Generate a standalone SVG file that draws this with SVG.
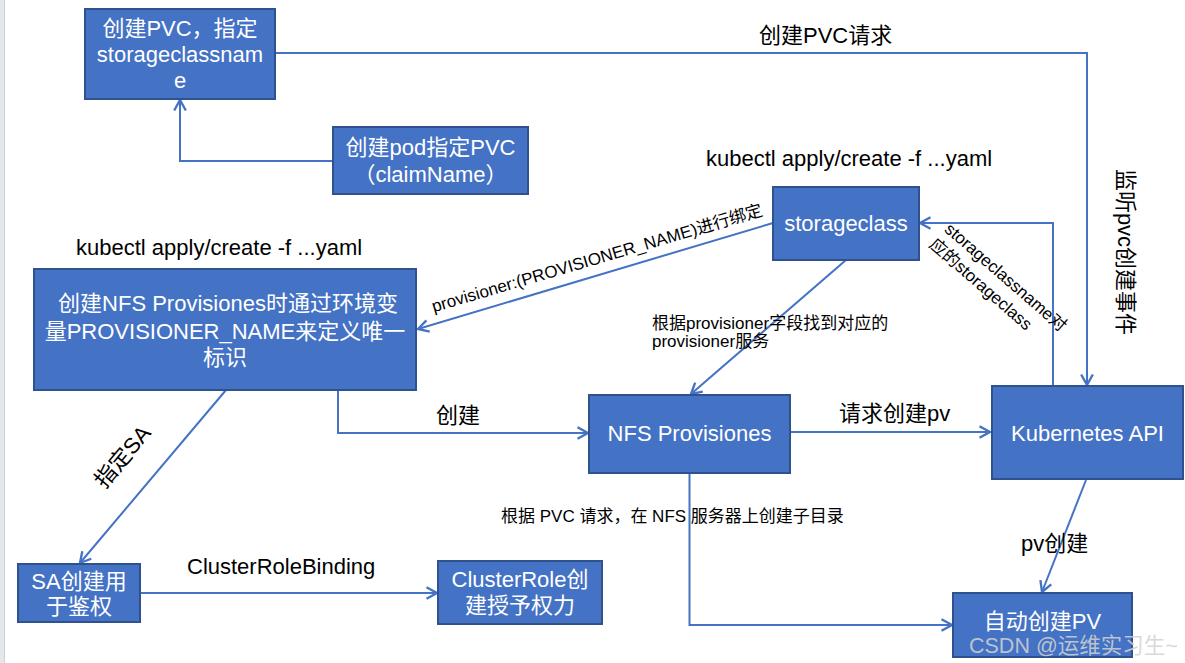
<svg xmlns="http://www.w3.org/2000/svg" width="1185" height="663" viewBox="0 0 1185 663">
<style>
.box{fill:#4472C4;stroke:#2F528F;stroke-width:2}
.bt{fill:#ffffff;font-family:"Liberation Sans","Noto Sans CJK SC",sans-serif;font-size:22px;text-anchor:middle}
.lb{fill:#000000;font-family:"Liberation Sans","Noto Sans CJK SC",sans-serif;font-size:22px}
.sm{fill:#000000;font-family:"Liberation Sans","Noto Sans CJK SC",sans-serif;font-size:17px}
.cn{fill:none;stroke:#4472C4;stroke-width:2;marker-end:url(#ah)}
</style>
<defs>
<marker id="ah" markerUnits="userSpaceOnUse" markerWidth="14" markerHeight="14" viewBox="0 0 12 12" refX="10" refY="6" orient="auto">
<path d="M1,1 L10,6 L1,11" fill="none" stroke="#4472C4" stroke-width="2"/>
</marker>
</defs>
<rect x="0" y="0" width="1185" height="663" fill="#ffffff"/>
<rect x="0" y="0" width="4" height="663" fill="#e3e6ea"/>
<line x1="4.5" y1="0" x2="4.5" y2="663" stroke="#cdd1d6" stroke-width="1"/>

<g id="connectors">
<path class="cn" d="M333,161 H180 V100"/>
<path class="cn" d="M275,53 H1087 V385"/>
<path class="cn" d="M773,223 L418,329"/>
<path class="cn" d="M226,390 L80,563"/>
<path class="cn" d="M338,390 V433 H588"/>
<path class="cn" d="M846,260 L691,394"/>
<path class="cn" d="M790,432 H990"/>
<path class="cn" d="M1053,386 V223 H920"/>
<path class="cn" d="M1086,480 L1042,592"/>
<path class="cn" d="M689.5,473 V625 H952"/>
<path class="cn" d="M140,593 H437"/>
<text class="lb" x="759" y="43">创建PVC请求</text>
<text class="lb" x="706" y="166">kubectl apply/create -f ...yaml</text>
<text class="lb" x="76" y="255">kubectl apply/create -f ...yaml</text>
<text class="sm" transform="translate(597,258) rotate(-16.4)" y="6" text-anchor="middle">provisioner:(PROVISIONER_NAME)进行绑定</text>
<text class="sm" x="652" y="329">根据provisioner字段找到对应的</text>
<text class="sm" x="652" y="347">provisioner服务</text>
<text class="sm" transform="translate(1006,277) rotate(41)" y="6" text-anchor="middle">storageclassname对</text>
<text class="sm" transform="translate(981,284) rotate(41)" y="6" text-anchor="middle">应的storageclass</text>
<text class="lb" transform="translate(1125,252) rotate(90)" y="7" text-anchor="middle">监听pvc创建事件</text>
<text class="lb" transform="translate(123,457) rotate(-50)" y="7" text-anchor="middle">指定SA</text>
<text class="lb" x="436" y="423">创建</text>
<text class="lb" x="839" y="421">请求创建pv</text>
<text class="sm" x="501" y="522">根据 PVC 请求，在 NFS 服务器上创建子目录</text>
<text class="lb" x="1021" y="551">pv创建</text>
<text class="lb" x="187" y="574">ClusterRoleBinding</text>
</g>

<g id="node-pvc">
<rect class="box" x="85" y="9" width="190" height="90"/>
<text class="bt" x="180" y="36">创建PVC，指定</text>
<text class="bt" x="180" y="62">storageclassnam</text>
<text class="bt" x="180" y="88">e</text>
</g>

<g id="node-pod">
<rect class="box" x="333" y="127" width="195" height="67"/>
<text class="bt" x="430.5" y="155">创建pod指定PVC</text>
<text class="bt" x="430.5" y="182">（claimName）</text>
</g>

<g id="node-storageclass">
<rect class="box" x="773" y="187" width="146" height="73"/>
<text class="bt" x="846" y="231">storageclass</text>
</g>

<g id="node-nfs-def">
<rect class="box" x="34" y="269" width="382" height="121"/>
<text class="bt" x="228" y="311">创建NFS Provisiones时通过环境变</text>
<text class="bt" x="225" y="339">量PROVISIONER_NAME来定义唯一</text>
<text class="bt" x="225" y="365">标识</text>
</g>

<g id="node-nfs-prov">
<rect class="box" x="589" y="395" width="201" height="78"/>
<text class="bt" x="689.5" y="441">NFS Provisiones</text>
</g>

<g id="node-k8s">
<rect class="box" x="992" y="386" width="191" height="93"/>
<text class="bt" x="1087.5" y="441">Kubernetes API</text>
</g>

<g id="node-pv">
<rect class="box" x="953" y="593" width="179" height="64"/>
<text class="bt" x="1042.5" y="629">自动创建PV</text>
</g>

<g id="node-sa">
<rect class="box" x="18" y="564" width="122" height="58"/>
<text class="bt" x="79" y="589">SA创建用</text>
<text class="bt" x="79" y="614">于鉴权</text>
</g>

<g id="node-clusterrole">
<rect class="box" x="438" y="561" width="164" height="63"/>
<text class="bt" x="520" y="587">ClusterRole创</text>
<text class="bt" x="520" y="613">建授予权力</text>
</g>

<text x="969" y="653" font-family="Liberation Sans,Noto Sans CJK SC,sans-serif" font-size="21.5" fill="#d2d2d2" fill-opacity="0.85">CSDN @运维实习生~</text>
</svg>
